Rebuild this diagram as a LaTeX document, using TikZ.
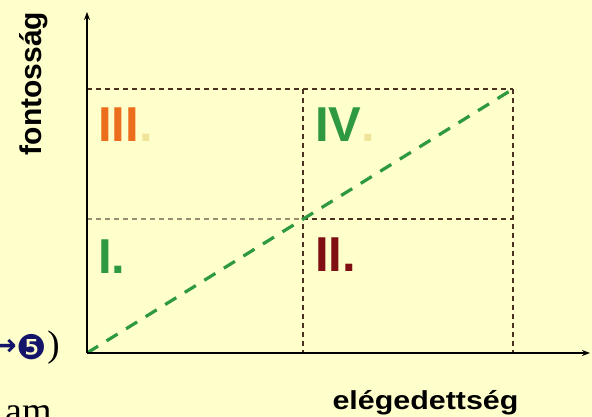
\documentclass[tikz,border=0pt]{standalone}
\usepackage{fontspec}
\setmainfont{Liberation Sans}
\newfontfamily\tnrfont{Liberation Serif}
\newfontfamily\dvfont{DejaVu Sans}
\usetikzlibrary{arrows.meta}
\definecolor{bgyellow}{HTML}{FFFFCC}
\definecolor{gridbrown}{HTML}{4A3222}
\definecolor{gridtan}{HTML}{9C8C70}
\definecolor{qgreen}{HTML}{2E9940}
\definecolor{qorange}{HTML}{EC6E1C}
\definecolor{qred}{HTML}{800F14}
\definecolor{qdot}{HTML}{F0E49A}
\definecolor{navy}{HTML}{14146A}
\tikzset{
  axisline/.style={line width=1.6pt, black, -{Stealth[length=8pt,width=6pt]}},
  gridline/.style={line width=1.1pt, gridbrown, dash pattern=on 5pt off 4pt},
  gridlight/.style={line width=1.1pt, gridtan, dash pattern=on 5pt off 4pt},
  diagline/.style={line width=3.2pt, qgreen, dash pattern=on 13pt off 10pt},
  numeral/.style={inner sep=0pt, anchor=base west, font=\bfseries\fontsize{49}{49}\selectfont},
  axislabel/.style={inner sep=0pt, font=\bfseries},
}
\begin{document}
\begin{tikzpicture}[x=1pt,y=-1pt]
\useasboundingbox[fill=bgyellow] (0,0) rectangle (592,417);
% coordinates
\coordinate (O) at (87,353);
\coordinate (ytop) at (87,12);
\coordinate (xend) at (590,353);
\coordinate (tl) at (87,89);
\coordinate (tm) at (303,89);
\coordinate (tr) at (513,89);
\coordinate (ml) at (87,219);
\coordinate (mm) at (303,219);
\coordinate (mr) at (513,219);
\coordinate (bm) at (303,353);
\coordinate (br) at (513,353);
% grid
\draw[gridline] (tl) -- (tr);
\draw[gridlight] (ml) -- (mm);
\draw[gridline] (mm) -- (mr);
\draw[gridline] (tm) -- (bm);
\draw[gridline] (tr) -- (br);
% diagonal
\draw[diagline] (O) -- (tr);
% axes
\draw[axisline] (O) -- (ytop);
\draw[axisline] (O) -- (xend);
% numerals
\node[numeral, text=qorange] (q3) at (98,142) {III\textcolor{qdot}{.}};
\node[numeral, text=qgreen] (q4) at (315,142) {IV\textcolor{qdot}{.}};
\node[numeral, text=qgreen] (q1) at (98,273) {I.};
\node[numeral, text=qred] (q2) at (315,271) {II.};
% axis labels
\node[axislabel, rotate=90, font=\bfseries\fontsize{30}{30}\selectfont] (ylab) at (33.5,83.5) {fontosság};
\node[axislabel, font=\bfseries\fontsize{26}{26}\selectfont] (xlab) at (425.5,403) {\scalebox{1.17}[1]{elégedettség}};
% left cut-off fragment
\node[inner sep=0pt, anchor=base east, font=\tnrfont\fontsize{37}{37}\selectfont] (par) at (60,356.5) {)};
\node[inner sep=0pt, text=navy, font=\dvfont\fontsize{34}{34}\selectfont] (five) at (32,347) {❺};
\node[inner sep=0pt, anchor=east, text=navy, font=\dvfont\bfseries\fontsize{30}{30}\selectfont] (arr) at (17,347) {→};
\node[inner sep=0pt, anchor=base east, font=\tnrfont\fontsize{38}{38}\selectfont] (am) at (52,423) {am};
\end{tikzpicture}
\end{document}
